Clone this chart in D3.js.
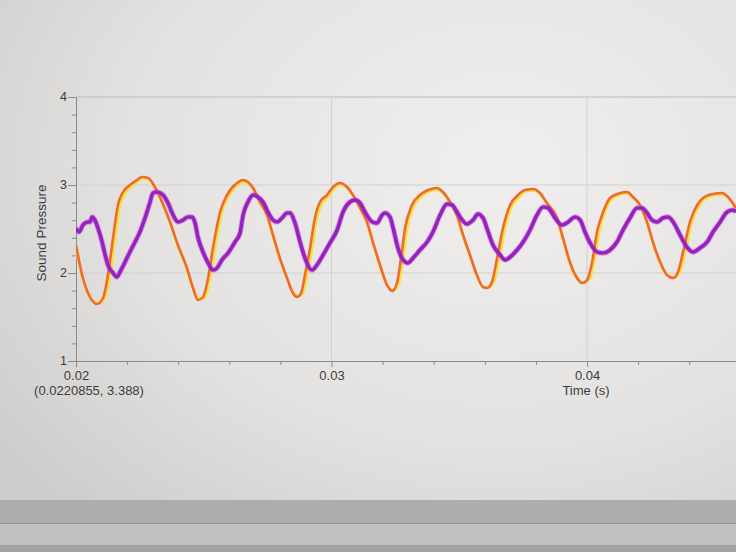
<!DOCTYPE html>
<html>
<head>
<meta charset="utf-8">
<script src="https://cdn.jsdelivr.net/npm/d3@7"></script>
<style>
  body { margin: 0; padding: 0; overflow: hidden; background: #e6e4e2; }
  text { font-family: "Liberation Sans", Arial, sans-serif; fill: #3c3c3c; }
</style>
</head>
<body>
<script>
'use strict';

// ---- data ----
const xTickValues = [0.02, 0.03, 0.04];
const yTickValues = [1, 2, 3, 4];

// orange series (time in s, sound pressure)
const orangeTime = [0.02000, 0.02027, 0.02055, 0.02082, 0.02106, 0.02125, 0.02145, 0.02164, 0.02184, 0.02211,
  0.02239, 0.02258, 0.02282, 0.02309, 0.02337, 0.02368, 0.02399, 0.02434, 0.02458, 0.02477,
  0.02497, 0.02517, 0.02536, 0.02564, 0.02591, 0.02630, 0.02654, 0.02673, 0.02693, 0.02720,
  0.02748, 0.02771, 0.02798, 0.02826, 0.02849, 0.02865, 0.02881, 0.02896, 0.02916, 0.02935,
  0.02955, 0.02982, 0.03006, 0.03033, 0.03061, 0.03084, 0.03112, 0.03139, 0.03162, 0.03190,
  0.03217, 0.03237, 0.03256, 0.03272, 0.03288, 0.03315, 0.03346, 0.03378, 0.03413, 0.03436,
  0.03464, 0.03491, 0.03515, 0.03542, 0.03569, 0.03593, 0.03609, 0.03628, 0.03648, 0.03671,
  0.03699, 0.03730, 0.03757, 0.03789, 0.03816, 0.03843, 0.03883, 0.03906, 0.03933, 0.03961,
  0.03980, 0.04000, 0.04020, 0.04039, 0.04063, 0.04090, 0.04129, 0.04157, 0.04180, 0.04207,
  0.04235, 0.04258, 0.04286, 0.04313, 0.04337, 0.04356, 0.04376, 0.04403, 0.04431, 0.04454,
  0.04493, 0.04528, 0.04552, 0.04583];
const orangeValue = [2.318, 1.943, 1.727, 1.648, 1.716, 1.977, 2.398, 2.773, 2.920, 3.000,
  3.057, 3.091, 3.080, 2.977, 2.807, 2.580, 2.318, 2.057, 1.830, 1.693,
  1.727, 1.943, 2.284, 2.693, 2.886, 3.023, 3.057, 3.034, 2.966, 2.807,
  2.659, 2.432, 2.170, 1.943, 1.773, 1.727, 1.773, 1.977, 2.284, 2.625,
  2.807, 2.886, 2.977, 3.023, 2.977, 2.886, 2.739, 2.580, 2.352, 2.091,
  1.864, 1.795, 1.886, 2.170, 2.511, 2.773, 2.886, 2.943, 2.966, 2.920,
  2.807, 2.659, 2.432, 2.205, 1.977, 1.841, 1.830, 1.898, 2.170, 2.511,
  2.773, 2.886, 2.943, 2.955, 2.909, 2.795, 2.625, 2.398, 2.125, 1.943,
  1.886, 1.920, 2.125, 2.466, 2.693, 2.852, 2.909, 2.920, 2.864, 2.773,
  2.580, 2.352, 2.125, 1.977, 1.943, 2.011, 2.239, 2.580, 2.773, 2.852,
  2.898, 2.909, 2.864, 2.739];

// yellow series (runs just beside the orange one)
const yellowTime = [0.02000, 0.02025, 0.02053, 0.02088, 0.02113, 0.02133, 0.02153, 0.02172, 0.02191, 0.02216,
  0.02242, 0.02260, 0.02282, 0.02307, 0.02335, 0.02366, 0.02397, 0.02432, 0.02457, 0.02483,
  0.02504, 0.02525, 0.02544, 0.02571, 0.02597, 0.02634, 0.02656, 0.02673, 0.02691, 0.02718,
  0.02746, 0.02769, 0.02796, 0.02825, 0.02850, 0.02871, 0.02888, 0.02904, 0.02924, 0.02943,
  0.02962, 0.02988, 0.03010, 0.03035, 0.03060, 0.03082, 0.03110, 0.03137, 0.03160, 0.03188,
  0.03217, 0.03243, 0.03263, 0.03280, 0.03296, 0.03322, 0.03352, 0.03382, 0.03415, 0.03435,
  0.03462, 0.03489, 0.03513, 0.03540, 0.03568, 0.03595, 0.03615, 0.03635, 0.03656, 0.03679,
  0.03706, 0.03736, 0.03761, 0.03791, 0.03815, 0.03841, 0.03881, 0.03904, 0.03931, 0.03961,
  0.03985, 0.04007, 0.04028, 0.04047, 0.04070, 0.04096, 0.04133, 0.04159, 0.04179, 0.04205,
  0.04233, 0.04256, 0.04284, 0.04313, 0.04342, 0.04363, 0.04384, 0.04411, 0.04438, 0.04460,
  0.04497, 0.04530, 0.04551, 0.04581];
const yellowValue = [2.290, 1.943, 1.727, 1.660, 1.716, 1.977, 2.398, 2.773, 2.900, 2.985,
  3.040, 3.075, 3.065, 2.977, 2.807, 2.580, 2.318, 2.057, 1.830, 1.705,
  1.727, 1.943, 2.284, 2.693, 2.870, 3.005, 3.040, 3.020, 2.966, 2.807,
  2.659, 2.432, 2.170, 1.943, 1.773, 1.740, 1.773, 1.977, 2.284, 2.625,
  2.790, 2.870, 2.960, 3.005, 2.965, 2.886, 2.739, 2.580, 2.352, 2.091,
  1.864, 1.805, 1.886, 2.170, 2.511, 2.760, 2.870, 2.930, 2.950, 2.910,
  2.807, 2.659, 2.432, 2.205, 1.977, 1.841, 1.840, 1.898, 2.170, 2.511,
  2.760, 2.870, 2.930, 2.940, 2.900, 2.795, 2.625, 2.398, 2.125, 1.943,
  1.895, 1.920, 2.125, 2.466, 2.693, 2.840, 2.895, 2.905, 2.855, 2.773,
  2.580, 2.352, 2.125, 1.977, 1.950, 2.011, 2.239, 2.580, 2.760, 2.840,
  2.885, 2.895, 2.855, 2.739];

// purple series
const purpleTime = [0.02000, 0.02012, 0.02027, 0.02047, 0.02055, 0.02063, 0.02074, 0.02086, 0.02102, 0.02114,
  0.02125, 0.02145, 0.02160, 0.02172, 0.02192, 0.02211, 0.02231, 0.02250, 0.02270, 0.02290,
  0.02301, 0.02317, 0.02341, 0.02360, 0.02380, 0.02399, 0.02419, 0.02438, 0.02454, 0.02466,
  0.02477, 0.02497, 0.02517, 0.02536, 0.02552, 0.02571, 0.02595, 0.02622, 0.02642, 0.02654,
  0.02673, 0.02693, 0.02712, 0.02732, 0.02751, 0.02771, 0.02787, 0.02806, 0.02826, 0.02838,
  0.02857, 0.02877, 0.02896, 0.02924, 0.02943, 0.02967, 0.02994, 0.03022, 0.03045, 0.03072,
  0.03092, 0.03112, 0.03131, 0.03159, 0.03178, 0.03198, 0.03209, 0.03229, 0.03241, 0.03260,
  0.03280, 0.03299, 0.03319, 0.03346, 0.03374, 0.03397, 0.03425, 0.03452, 0.03472, 0.03491,
  0.03511, 0.03530, 0.03554, 0.03573, 0.03593, 0.03613, 0.03632, 0.03660, 0.03679, 0.03699,
  0.03726, 0.03750, 0.03777, 0.03804, 0.03828, 0.03847, 0.03875, 0.03902, 0.03926, 0.03953,
  0.03973, 0.03992, 0.04012, 0.04039, 0.04063, 0.04090, 0.04117, 0.04141, 0.04168, 0.04196,
  0.04215, 0.04235, 0.04254, 0.04274, 0.04297, 0.04317, 0.04337, 0.04364, 0.04391, 0.04415,
  0.04442, 0.04470, 0.04493, 0.04521, 0.04548, 0.04571, 0.04583];
const purpleValue = [2.511, 2.466, 2.545, 2.580, 2.580, 2.636, 2.602, 2.511, 2.352, 2.205,
  2.091, 2.000, 1.955, 2.011, 2.125, 2.239, 2.352, 2.466, 2.625, 2.807,
  2.909, 2.920, 2.886, 2.795, 2.659, 2.580, 2.602, 2.636, 2.636, 2.568,
  2.409, 2.239, 2.114, 2.034, 2.057, 2.148, 2.227, 2.352, 2.455, 2.659,
  2.807, 2.886, 2.864, 2.807, 2.693, 2.602, 2.580, 2.625, 2.682, 2.682,
  2.568, 2.352, 2.170, 2.034, 2.091, 2.205, 2.341, 2.489, 2.693, 2.807,
  2.830, 2.795, 2.693, 2.580, 2.568, 2.659, 2.682, 2.636, 2.511, 2.284,
  2.148, 2.114, 2.170, 2.261, 2.352, 2.466, 2.659, 2.784, 2.773, 2.693,
  2.602, 2.557, 2.602, 2.670, 2.625, 2.466, 2.318, 2.205, 2.148, 2.182,
  2.261, 2.352, 2.489, 2.659, 2.750, 2.739, 2.625, 2.545, 2.580, 2.636,
  2.602, 2.466, 2.341, 2.239, 2.227, 2.261, 2.352, 2.489, 2.625, 2.739,
  2.739, 2.682, 2.602, 2.580, 2.625, 2.636, 2.580, 2.432, 2.295, 2.239,
  2.284, 2.352, 2.466, 2.580, 2.693, 2.716, 2.693];

(function() {

  let svgContainer = "";
  const width = 736;
  const height = 552;
  const plot = { left: 76, right: 736, top: 97, bottom: 361 };

  window.onload = function() {
    svgContainer = d3.select('body')
      .append('svg')
      .attr('width', width)
      .attr('height', height);

    drawBackground();
    let maps = drawAxes();
    plotLines(maps);
    makeLabels();
  }

  // screen background + the monitor bezel strips at the bottom
  function drawBackground() {
    let defs = svgContainer.append('defs');
    let grad = defs.append('radialGradient')
      .attr('id', 'screen')
      .attr('cx', 0.68).attr('cy', 0.3).attr('r', 0.85);
    grad.append('stop').attr('offset', '0%').attr('stop-color', '#f0efed');
    grad.append('stop').attr('offset', '60%').attr('stop-color', '#e4e2e0');
    grad.append('stop').attr('offset', '100%').attr('stop-color', '#cfcdcb');

    defs.append('clipPath').attr('id', 'plotClip')
      .append('rect')
      .attr('x', plot.left).attr('y', plot.top - 5)
      .attr('width', plot.right - plot.left).attr('height', plot.bottom - plot.top + 10);

    svgContainer.append('rect')
      .attr('width', width).attr('height', height)
      .attr('fill', 'url(#screen)');

    svgContainer.append('rect')
      .attr('x', 0).attr('y', 500).attr('width', width).attr('height', 23)
      .attr('fill', '#aeacad');
    svgContainer.append('rect')
      .attr('x', 0).attr('y', 523).attr('width', width).attr('height', 22)
      .attr('fill', '#c2c0c2');
    svgContainer.append('rect')
      .attr('x', 0).attr('y', 545).attr('width', width).attr('height', 7)
      .attr('fill', '#a4a2a3');
    svgContainer.append('line')
      .attr('x1', 0).attr('x2', width).attr('y1', 523.5).attr('y2', 523.5)
      .attr('stroke', '#9a9899');
  }

  // draw the axes, ticks and grid
  function drawAxes() {
    let xScale = d3.scaleLinear()
      .domain([0.02, 0.04583])
      .range([plot.left, plot.right]);

    let yScale = d3.scaleLinear()
      .domain([1, 4])
      .range([plot.bottom, plot.top]);

    // grid lines
    svgContainer.append('g')
      .selectAll('line')
      .data(yTickValues.slice(1))
      .enter()
      .append('line')
        .attr('x1', plot.left).attr('x2', plot.right)
        .attr('y1', (d) => yScale(d)).attr('y2', (d) => yScale(d))
        .attr('stroke', (d) => d == 4 ? '#bdbbba' : '#d3d1d0')
        .attr('stroke-width', 1);

    svgContainer.append('g')
      .selectAll('line')
      .data(xTickValues.slice(1))
      .enter()
      .append('line')
        .attr('x1', (d) => xScale(d)).attr('x2', (d) => xScale(d))
        .attr('y1', plot.top).attr('y2', plot.bottom)
        .attr('stroke', '#d3d1d0')
        .attr('stroke-width', 1);

    // minor ticks
    let xMinor = d3.range(0.022, 0.046, 0.002).filter((d) => Math.abs(d * 100 - Math.round(d * 100)) > 1e-6);
    let yMinor = d3.range(1.2, 4, 0.2).filter((d) => Math.abs(d - Math.round(d)) > 1e-6);

    let xMinorAxis = d3.axisBottom(xScale).tickValues(xMinor).tickSize(4).tickFormat('');
    svgContainer.append('g')
      .attr('class', 'axis')
      .attr('transform', `translate(0, ${plot.bottom})`)
      .call(xMinorAxis);

    let yMinorAxis = d3.axisLeft(yScale).tickValues(yMinor).tickSize(4).tickFormat('');
    svgContainer.append('g')
      .attr('class', 'axis')
      .attr('transform', `translate(${plot.left}, 0)`)
      .call(yMinorAxis);

    // major ticks with labels
    let xAxis = d3.axisBottom(xScale)
      .tickValues(xTickValues)
      .tickSize(6)
      .tickSizeOuter(0)
      .tickPadding(4)
      .tickFormat(d3.format('.2f'));
    svgContainer.append('g')
      .attr('class', 'axis x-axis')
      .attr('transform', `translate(0, ${plot.bottom})`)
      .call(xAxis);

    let yAxis = d3.axisLeft(yScale)
      .tickValues(yTickValues)
      .tickSize(8)
      .tickSizeOuter(0)
      .tickPadding(1)
      .tickFormat(d3.format('d'));
    svgContainer.append('g')
      .attr('class', 'axis y-axis')
      .attr('transform', `translate(${plot.left}, 0)`)
      .call(yAxis);

    svgContainer.selectAll('.axis path').attr('stroke', '#8c8a89');
    svgContainer.selectAll('.axis line').attr('stroke', '#8c8a89');
    svgContainer.selectAll('.axis text')
      .style('font-family', '"Liberation Sans", Arial, sans-serif')
      .style('font-size', '13px')
      .attr('fill', '#3c3c3c');
    svgContainer.selectAll('.y-axis text')
      .style('font-size', '12.5px')
      .attr('dy', '0.28em');

    return {
      xScale: xScale,
      yScale: yScale
    };
  }

  // the three recorded traces
  function plotLines(map) {
    let xScale = map.xScale;
    let yScale = map.yScale;

    let toRows = (times, values) => times.map((t, i) => ({ time: t, value: values[i] }));

    let line = d3.line()
      .x((d) => xScale(d.time))
      .y((d) => yScale(d.value))
      .curve(d3.curveMonotoneX);

    let g = svgContainer.append('g').attr('clip-path', 'url(#plotClip)');

    g.append('path')
      .attr('d', line(toRows(yellowTime, yellowValue)))
      .attr('fill', 'none')
      .attr('stroke', '#f3e23a')
      .attr('stroke-width', 2.8)
      .attr('stroke-linejoin', 'round');

    g.append('path')
      .attr('d', line(toRows(orangeTime, orangeValue)))
      .attr('fill', 'none')
      .attr('stroke', '#ef6a32')
      .attr('stroke-width', 2.6)
      .attr('stroke-linejoin', 'round');

    // soft magenta halo under the purple trace
    g.append('path')
      .attr('d', line(toRows(purpleTime, purpleValue)))
      .attr('fill', 'none')
      .attr('stroke', '#c040e0')
      .attr('stroke-opacity', 0.45)
      .attr('stroke-width', 5.5)
      .attr('stroke-linejoin', 'round');

    g.append('path')
      .attr('d', line(toRows(purpleTime, purpleValue)))
      .attr('fill', 'none')
      .attr('stroke', '#9522bd')
      .attr('stroke-width', 3.6)
      .attr('stroke-linejoin', 'round');
  }

  function makeLabels() {
    svgContainer.append('text')
      .attr('transform', 'translate(46, 233)rotate(-90)')
      .attr('text-anchor', 'middle')
      .style('font-size', '13.5px')
      .text('Sound Pressure');

    svgContainer.append('text')
      .attr('x', 586)
      .attr('y', 395)
      .attr('text-anchor', 'middle')
      .style('font-size', '13px')
      .text('Time (s)');

    svgContainer.append('text')
      .attr('x', 89)
      .attr('y', 395)
      .attr('text-anchor', 'middle')
      .style('font-size', '13px')
      .text('(0.0220855, 3.388)');
  }

})();
</script>
</body>
</html>
